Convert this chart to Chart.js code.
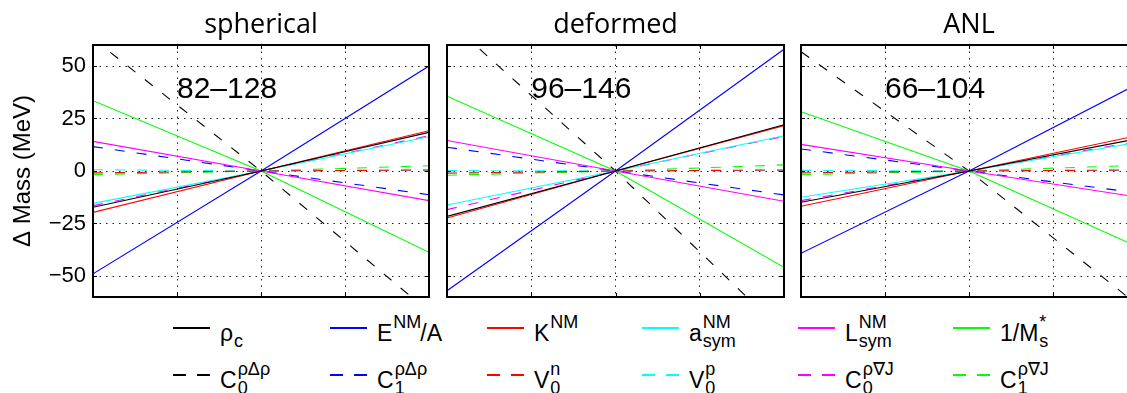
<!DOCTYPE html>
<html>
<head>
<meta charset="utf-8">
<script src="https://cdn.jsdelivr.net/npm/chart.js@4.4.0/dist/chart.umd.min.js"></script>
<style>
  body { margin: 0; width: 1127px; height: 393px; overflow: hidden; background: #fff; position: relative;
         font-family: "Liberation Sans", Arial, sans-serif; }
  .panel { position: absolute; top: 0; }
  .sample { position: absolute; width: 37px; height: 2px; }
  .lbl { position: absolute; font-size: 23px; line-height: 1; color: #000; white-space: nowrap; }
  .scr { display: inline-block; position: relative; font-size: 18px; line-height: 1; }
  .scr .sup { position: absolute; left: 1px; top: -13px; }
  .scr .sub { position: absolute; left: 1px; top: 6px; }
</style>
</head>
<body>
<canvas id="p1" class="panel" width="440" height="300" style="left:0"></canvas>
<canvas id="p2" class="panel" width="350" height="300" style="left:440px"></canvas>
<canvas id="p3" class="panel" width="350" height="300" style="left:790px"></canvas>
<div id="legend"></div>
<script>
// x positions where the curves were read (variation of each parameter)
var xs = [-1, 0, 1];
var yTicks = [-50, -25, 0, 25, 50];
var xTicks = [-0.5, 0, 0.5];

var panelTitles = ['spherical', 'deformed', 'ANL'];
var panelRanges = ['82\u2013128', '96\u2013146', '66\u2013104'];

// series order: rho_c, E/A, K, a_sym, L_sym, 1/M_s*, C0rDr, C1rDr, V0n, V0p, C0rnJ, C1rnJ
var seriesNames = ['\u03c1c', 'E^NM/A', 'K^NM', 'a_sym^NM', 'L_sym^NM', '1/M_s^*',
                   'C0^\u03c1\u0394\u03c1', 'C1^\u03c1\u0394\u03c1', 'V0^n', 'V0^p', 'C0^\u03c1\u2207J', 'C1^\u03c1\u2207J'];
var seriesMain = ['\u03c1', 'E', 'K', 'a', 'L', '1/M', 'C', 'C', 'V', 'V', 'C', 'C'];
var seriesSup  = ['', 'NM', 'NM', 'NM', 'NM', '*', '\u03c1\u0394\u03c1', '\u03c1\u0394\u03c1', 'n', 'p', '\u03c1\u2207J', '\u03c1\u2207J'];
var seriesSub  = ['c', '', '', 'sym', 'sym', 's', '0', '1', '0', '0', '0', '1'];
var seriesTail = ['', '/A', '', '', '', '', '', '', '', '', '', ''];

// Delta mass (MeV) at x = -1 and x = +1, all curves pass through 0 at x = 0
var sphericalLeft  = [-17.3, -49.0, -19.7, -15.4,  14.1,  33.5,  63.0,  11.6, -0.9, 0.6, -16.5, -1.7];
var sphericalRight = [ 18.4,  50.0,  19.2,  16.3, -14.1, -38.7, -67.0, -11.3,  0.5, 0.4,  16.8,  2.5];
var deformedLeft   = [-21.6, -57.0, -22.4, -16.2,  14.5,  35.6,  72.0,  11.3, -1.0, 0.2, -18.4, -2.0];
var deformedRight  = [ 22.0,  58.0,  21.6,  16.8, -14.4, -45.9, -77.0, -11.4,  0.5, 0.3,  16.5,  2.9];
var anlLeft        = [-14.9, -39.2, -16.8, -12.5,  12.7,  28.2,  56.8,  10.5, -0.9, 0.3, -14.1, -1.8];
var anlRight       = [ 15.3,  41.3,  16.8,  13.6, -12.4, -36.0, -63.5, -10.4,  0.5, 0.3,  14.0,  2.7];

var lineColors = ['#000000', '#0000ff', '#ff0000', '#00ffff', '#ff00ff', '#00ff00'];

function color(i) { return lineColors[i % 6] }
function dashed(i) { return i >= 6 }

var framePlugin = {
    id: 'frame',
    afterDraw: function (chart, args, opts) {
        var ctx = chart.ctx, a = chart.chartArea
        var x = chart.scales.x, y = chart.scales.y
        ctx.save()
        ctx.strokeStyle = '#000'
        ctx.lineWidth = 1
        ctx.beginPath()
        yTicks.forEach(function (v) {
            var py = Math.round(y.getPixelForValue(v)) + 0.5
            ctx.moveTo(a.left, py); ctx.lineTo(a.left + 4, py)
            ctx.moveTo(a.right, py); ctx.lineTo(a.right - 4, py)
        })
        xTicks.forEach(function (v) {
            var px = Math.round(x.getPixelForValue(v)) + 0.5
            ctx.moveTo(px, a.top); ctx.lineTo(px, a.top + 4)
            ctx.moveTo(px, a.bottom); ctx.lineTo(px, a.bottom - 4)
        })
        ctx.stroke()
        ctx.lineWidth = 2
        ctx.strokeRect(a.left, a.top, a.right - a.left, a.bottom - a.top)

        ctx.fillStyle = '#000'
        ctx.textBaseline = 'alphabetic'
        ctx.textAlign = 'center'
        ctx.font = '27px "Open Sans"'
        ctx.fillText(opts.title, (a.left + a.right) / 2, 33)
        ctx.textAlign = 'left'
        ctx.font = '30px "Liberation Sans"'
        ctx.fillText(opts.range, x.getPixelForValue(-0.5), y.getPixelForValue(35))
        ctx.restore()
    }
}

function makePanel(id, left, right, idx, pad) {
    var datasets = seriesNames.map(function (name, i) {
        var ys = [left[i], 0, right[i]]
        return {
            label: name,
            data: xs.map(function (x, k) { return { x: x, y: ys[k] } }),
            borderColor: color(i),
            borderWidth: 1.1,
            borderDash: dashed(i) ? [10, 12] : [],
            pointRadius: 0,
            fill: false,
            tension: 0
        }
    })
    var first = idx == 0
    new Chart(document.getElementById(id), {
        type: 'line',
        data: { datasets: datasets },
        plugins: [framePlugin],
        options: {
            responsive: false,
            animation: false,
            devicePixelRatio: 1,
            layout: { padding: pad },
            plugins: {
                legend: { display: false },
                tooltip: { enabled: false },
                frame: { title: panelTitles[idx], range: panelRanges[idx] }
            },
            scales: {
                x: {
                    type: 'linear', min: -1, max: 1,
                    afterBuildTicks: function (s) { s.ticks = [-1].concat(xTicks, [1]).map(function (v) { return { value: v } }) },
                    afterFit: function (s) { s.height = 0; s.paddingLeft = 0; s.paddingRight = 0 },
                    ticks: { display: false },
                    grid: { color: '#222', lineWidth: 1, drawTicks: false },
                    border: { display: false, dash: [1.5, 5] }
                },
                y: {
                    type: 'linear', min: -60, max: 60,
                    afterBuildTicks: function (s) { s.ticks = yTicks.map(function (v) { return { value: v } }) },
                    afterFit: function (s) { s.width = first ? 93 : 0; s.paddingTop = 0; s.paddingBottom = 0 },
                    ticks: {
                        display: first,
                        color: '#000',
                        padding: 7,
                        font: { family: 'Liberation Sans', size: 22 },
                        callback: function (v) { return String(v).replace('-', '\u2212') }
                    },
                    title: {
                        display: first,
                        text: '\u0394 Mass (MeV)',
                        color: '#000',
                        padding: { top: 9, bottom: 2 },
                        font: { family: 'Liberation Sans', size: 24 }
                    },
                    grid: { color: '#222', lineWidth: 1, drawTicks: false },
                    border: { display: false, dash: [1.5, 5] }
                }
            }
        }
    })
}

makePanel('p1', sphericalLeft, sphericalRight, 0, { top: 45, right: 11, bottom: 3, left: 0 })
makePanel('p2', deformedLeft, deformedRight, 1, { top: 45, right: 6, bottom: 3, left: 7 })
makePanel('p3', anlLeft, anlRight, 2, { top: 45, right: 3, bottom: 3, left: 11 })

// legend, 6 columns x 2 rows
var legX = [173, 330, 487, 642, 798, 953]
var legY = [328, 375]
var legend = document.getElementById('legend')
seriesNames.forEach(function (name, i) {
    var col = i % 6, row = Math.floor(i / 6)
    var c = color(i)
    var s = document.createElement('div')
    s.className = 'sample'
    s.style.left = legX[col] + 'px'
    s.style.top = (legY[row] - 1) + 'px'
    s.style.background = dashed(i)
        ? 'linear-gradient(to right,' + c + ' 0 13px, transparent 13px 24px,' + c + ' 24px 37px)'
        : c
    legend.appendChild(s)

    var l = document.createElement('div')
    l.className = 'lbl'
    l.style.left = (legX[col] + 47) + 'px'
    l.style.top = (legY[row] - 6) + 'px'
    var html = seriesMain[i]
    if (seriesSup[i] || seriesSub[i]) {
        var wide = seriesSup[i].length > seriesSub[i].length ? seriesSup[i] : seriesSub[i]
        html += '<span class="scr"><span style="visibility:hidden">' + wide + '</span>' +
            '<span class="sup">' + seriesSup[i] + '</span><span class="sub">' + seriesSub[i] + '</span></span>'
    }
    html += seriesTail[i]
    l.innerHTML = html
    legend.appendChild(l)
})
</script>
</body>
</html>
